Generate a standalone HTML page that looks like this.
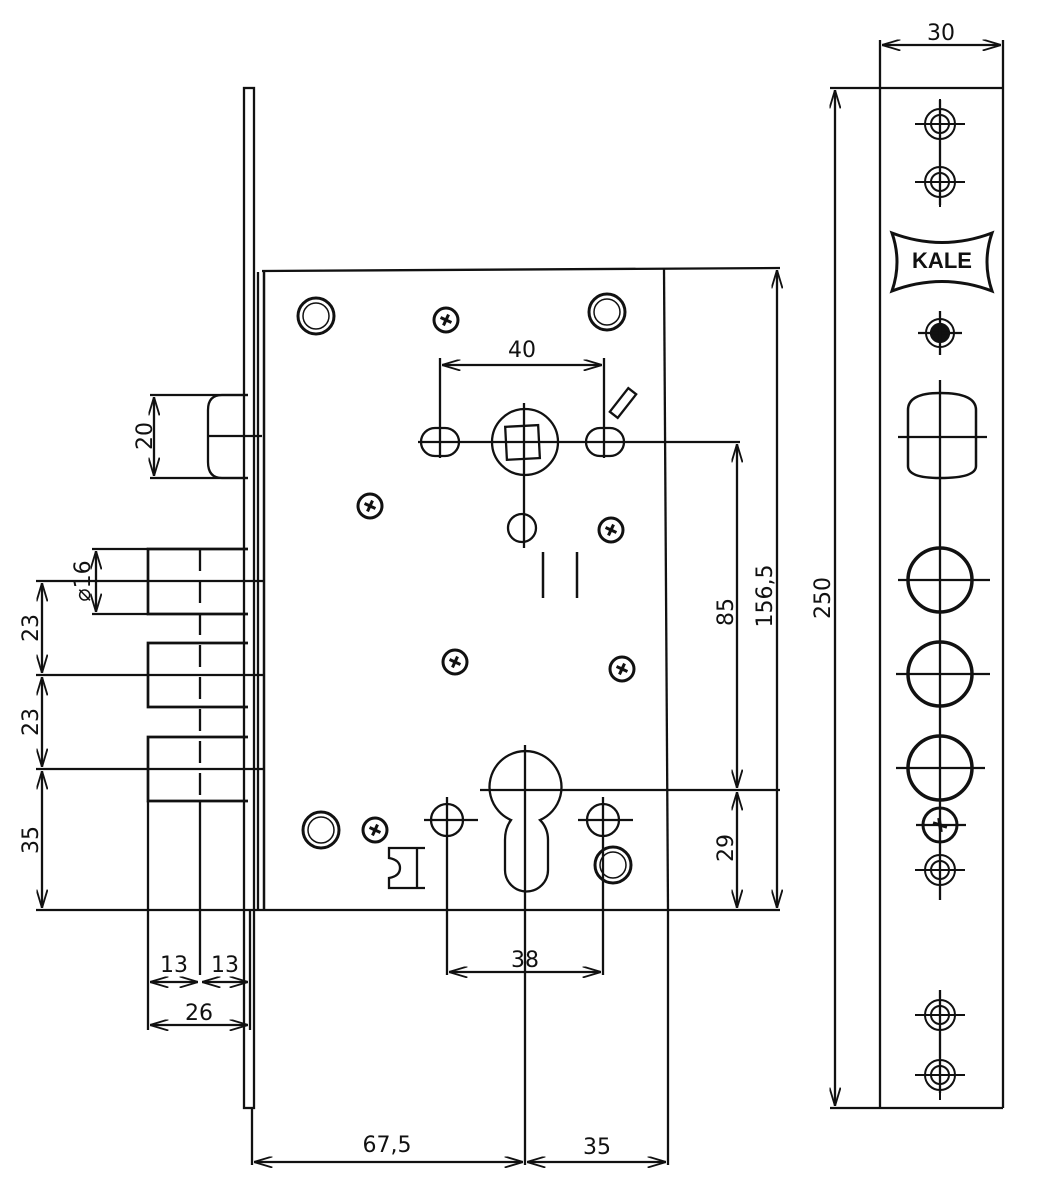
<!DOCTYPE html>
<html><head><meta charset="utf-8"><style>
html,body{margin:0;padding:0;background:#fff}
svg{display:block}
text{font-family:"DejaVu Sans","Liberation Sans",sans-serif;font-size:22px;fill:#111}
</style></head><body>
<svg width="1040" height="1200" viewBox="0 0 1040 1200" xmlns="http://www.w3.org/2000/svg">
<defs>
<g id="ros"><circle r="18" fill="none" stroke="#111" stroke-width="3"/><circle r="13" fill="none" stroke="#111" stroke-width="1.5"/></g>
<g id="scr"><circle r="12" fill="none" stroke="#111" stroke-width="3"/><g transform="rotate(25)" stroke="#111" stroke-width="3"><line x1="-6" y1="0" x2="6" y2="0"/><line x1="0" y1="-6" x2="0" y2="6"/></g></g>
<g id="dbl"><circle r="15" fill="none" stroke="#111" stroke-width="2"/><circle r="9" fill="none" stroke="#111" stroke-width="2"/><line x1="-25" y1="0" x2="25" y2="0" stroke="#111" stroke-width="2"/><line x1="0" y1="-25" x2="0" y2="25" stroke="#111" stroke-width="2"/></g>
<marker id="a" viewBox="0 0 10 6" refX="10" refY="3" markerWidth="8" markerHeight="5" orient="auto-start-reverse"><path d="M0,0 L10,3 L0,6" fill="none" stroke="#111" stroke-width="1"/></marker>
</defs>
<g stroke="#111" stroke-width="2.3" fill="none">
<rect x="244" y="88" width="10" height="1020"/>
<line x1="258" y1="272" x2="258" y2="910"/>
<line x1="264" y1="272" x2="264" y2="910" stroke-width="2.5"/>
<line x1="262" y1="271" x2="780" y2="268"/>
<line x1="664" y1="268" x2="668" y2="910"/>
<line x1="36" y1="910" x2="780" y2="910"/>
<line x1="150" y1="395" x2="248" y2="395"/>
<line x1="150" y1="478" x2="248" y2="478"/>
<path d="M248,395 H222 Q208,395 208,410 V462 Q208,478 222,478 H248"/>
<line x1="208" y1="436" x2="262" y2="436"/>
<line x1="154" y1="397" x2="154" y2="476" marker-start="url(#a)" marker-end="url(#a)"/>
<path d="M248,549 H148 V614 H248" stroke-width="2.7"/>
<path d="M248,643 H148 V707 H248" stroke-width="2.7"/>
<path d="M248,737 H148 V801 H248" stroke-width="2.7"/>
<line x1="200" y1="549" x2="200" y2="801" stroke-dasharray="22,10"/>
<line x1="148" y1="801" x2="148" y2="1030"/>
<line x1="250" y1="910" x2="250" y2="1030"/>
<line x1="200" y1="801" x2="200" y2="975"/>
<line x1="92" y1="549" x2="148" y2="549"/>
<line x1="92" y1="614" x2="148" y2="614"/>
<line x1="96" y1="551" x2="96" y2="612" marker-start="url(#a)" marker-end="url(#a)"/>
<line x1="36" y1="581" x2="265" y2="581"/>
<line x1="36" y1="675" x2="265" y2="675"/>
<line x1="36" y1="769" x2="265" y2="769"/>
<line x1="42" y1="583" x2="42" y2="673" marker-start="url(#a)" marker-end="url(#a)"/>
<line x1="42" y1="677" x2="42" y2="767" marker-start="url(#a)" marker-end="url(#a)"/>
<line x1="42" y1="771" x2="42" y2="908" marker-start="url(#a)" marker-end="url(#a)"/>
<line x1="150" y1="982" x2="198" y2="982" marker-start="url(#a)" marker-end="url(#a)"/>
<line x1="202" y1="982" x2="248" y2="982" marker-start="url(#a)" marker-end="url(#a)"/>
<line x1="150" y1="1025" x2="248" y2="1025" marker-start="url(#a)" marker-end="url(#a)"/>
<line x1="252" y1="1108" x2="252" y2="1165"/>
<line x1="668" y1="910" x2="668" y2="1165"/>
<line x1="525" y1="745" x2="525" y2="1165"/>
<line x1="254" y1="1162" x2="523" y2="1162" marker-start="url(#a)" marker-end="url(#a)"/>
<line x1="527" y1="1162" x2="666" y2="1162" marker-start="url(#a)" marker-end="url(#a)"/>
<use href="#ros" x="316" y="316"/>
<use href="#ros" x="607" y="312"/>
<use href="#ros" x="321" y="830"/>
<use href="#ros" x="613" y="865"/>
<use href="#scr" x="446" y="320"/>
<use href="#scr" x="370" y="506"/>
<use href="#scr" x="611" y="530"/>
<use href="#scr" x="455" y="662"/>
<use href="#scr" x="622" y="669"/>
<use href="#scr" x="375" y="830"/>
<circle cx="525" cy="442" r="33"/>
<rect x="506" y="426" width="33" height="33" transform="rotate(-3 522 442)"/>
<line x1="418" y1="442" x2="740" y2="442"/>
<line x1="524" y1="403" x2="524" y2="548"/>
<rect x="421" y="428" width="38" height="28" rx="14"/>
<rect x="586" y="428" width="38" height="28" rx="14"/>
<line x1="440" y1="358" x2="440" y2="458"/>
<line x1="604" y1="358" x2="604" y2="458"/>
<line x1="442" y1="365" x2="602" y2="365" marker-start="url(#a)" marker-end="url(#a)"/>
<circle cx="522" cy="528" r="14"/>
<rect x="618" y="388" width="10" height="30" transform="rotate(38 623 403)"/>
<line x1="543" y1="552" x2="543" y2="598" stroke-width="2.5"/>
<line x1="577" y1="552" x2="577" y2="598" stroke-width="2.5"/>
<path d="M511,820 A36,36 0 1 1 540,820 Q548,828 548,840 V870 A21.5,21.5 0 0 1 505,870 V840 Q505,828 511,820 Z"/>
<line x1="480" y1="790" x2="780" y2="790"/>
<circle cx="447" cy="820" r="16"/>
<circle cx="603" cy="820" r="16"/>
<line x1="424" y1="820" x2="478" y2="820"/>
<line x1="578" y1="820" x2="633" y2="820"/>
<line x1="447" y1="797" x2="447" y2="975"/>
<line x1="603" y1="797" x2="603" y2="975"/>
<line x1="449" y1="972" x2="601" y2="972" marker-start="url(#a)" marker-end="url(#a)"/>
<path d="M425,848 H389 V858 Q400,860 400,868 Q400,876 389,878 V888 H425 M417,848 V888"/>
<line x1="737" y1="444" x2="737" y2="788" marker-start="url(#a)" marker-end="url(#a)"/>
<line x1="737" y1="792" x2="737" y2="908" marker-start="url(#a)" marker-end="url(#a)"/>
<line x1="777" y1="270" x2="777" y2="908" marker-start="url(#a)" marker-end="url(#a)"/>
<line x1="830" y1="88" x2="1003" y2="88"/>
<line x1="835" y1="90" x2="835" y2="1106" marker-start="url(#a)" marker-end="url(#a)"/>
<line x1="830" y1="1108" x2="1003" y2="1108"/>
<line x1="880" y1="40" x2="880" y2="1108"/>
<line x1="1003" y1="40" x2="1003" y2="1108"/>
<line x1="882" y1="45" x2="1001" y2="45" marker-start="url(#a)" marker-end="url(#a)"/>
<line x1="940" y1="100" x2="940" y2="205"/>
<line x1="940" y1="380" x2="940" y2="900"/>
<line x1="940" y1="990" x2="940" y2="1093"/>
<use href="#dbl" x="940" y="124"/>
<use href="#dbl" x="940" y="182"/>
<use href="#dbl" x="940" y="870"/>
<use href="#dbl" x="940" y="1015"/>
<use href="#dbl" x="940" y="1075"/>
<path d="M892,233 Q942,252 992,233 Q982,262 992,291 Q942,272 892,291 Q902,262 892,233 Z" stroke-width="3"/>
<circle cx="940" cy="333" r="14" stroke-width="2"/><circle cx="940" cy="333" r="9" fill="#111"/>
<line x1="918" y1="333" x2="962" y2="333"/><line x1="940" y1="311" x2="940" y2="355"/>
<path d="M908,410 Q908,393 940,393 Q976,393 976,410 V466 Q976,478 940,478 Q908,478 908,466 Z" stroke-width="2.5"/>
<line x1="898" y1="437" x2="987" y2="437"/>
<circle cx="940" cy="580" r="32" stroke-width="3.5"/>
<circle cx="940" cy="674" r="32" stroke-width="3.5"/>
<circle cx="940" cy="768" r="32" stroke-width="3.5"/>
<line x1="898" y1="580" x2="990" y2="580"/>
<line x1="896" y1="674" x2="990" y2="674"/>
<line x1="896" y1="768" x2="985" y2="768"/>
<circle cx="940" cy="825" r="17" stroke-width="3"/>
<line x1="916" y1="825" x2="966" y2="825"/>
<g stroke-width="3.5"><line x1="933" y1="823" x2="947" y2="827"/><line x1="939" y1="818" x2="941" y2="832"/></g>
</g>
<text x="942" y="262" font-size="24" font-weight="bold" text-anchor="middle" dominant-baseline="middle" style="font-family:'Liberation Sans Narrow','Liberation Sans',sans-serif">KALE</text>
<text x="941" y="40" text-anchor="middle">30</text>
<text x="522" y="357" text-anchor="middle">40</text>
<text x="525" y="967" text-anchor="middle">38</text>
<text x="174" y="972" text-anchor="middle">13</text>
<text x="225" y="972" text-anchor="middle">13</text>
<text x="199" y="1020" text-anchor="middle">26</text>
<text x="387" y="1152" text-anchor="middle">67,5</text>
<text x="597" y="1154" text-anchor="middle">35</text>
<text transform="translate(152,436) rotate(-90)" text-anchor="middle">20</text>
<text transform="translate(90,581) rotate(-90)" text-anchor="middle">⌀16</text>
<text transform="translate(38,628) rotate(-90)" text-anchor="middle">23</text>
<text transform="translate(38,722) rotate(-90)" text-anchor="middle">23</text>
<text transform="translate(38,840) rotate(-90)" text-anchor="middle">35</text>
<text transform="translate(733,612) rotate(-90)" text-anchor="middle">85</text>
<text transform="translate(733,848) rotate(-90)" text-anchor="middle">29</text>
<text transform="translate(772,596) rotate(-90)" text-anchor="middle">156,5</text>
<text transform="translate(830,598) rotate(-90)" text-anchor="middle">250</text>
</svg>
</body></html>
